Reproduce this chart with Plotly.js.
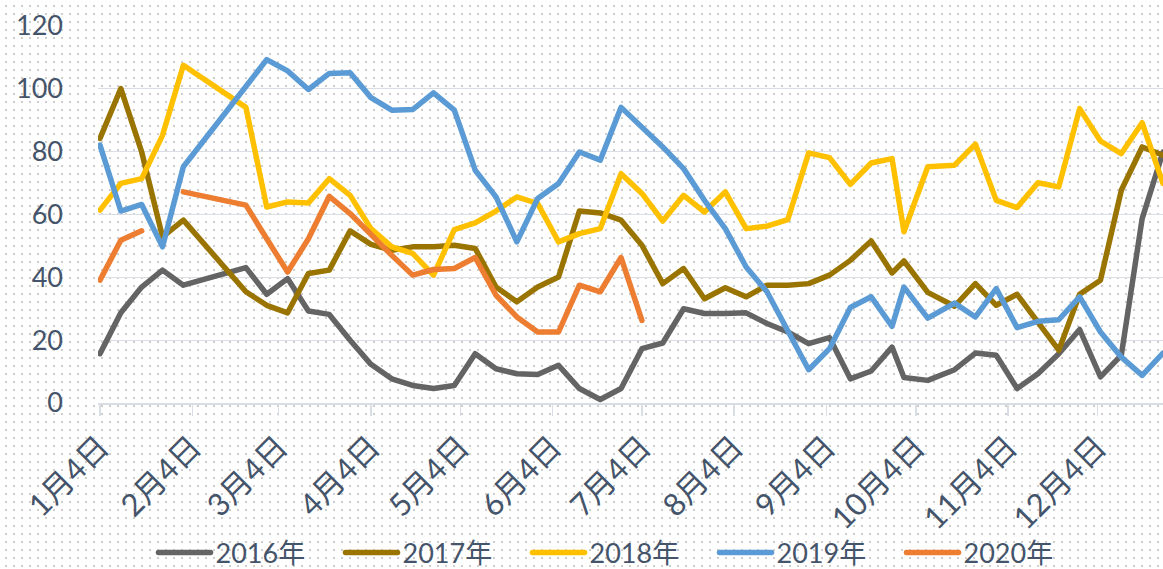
<!DOCTYPE html>
<html>
<head>
<meta charset="utf-8">
<script src="https://cdn.plot.ly/plotly-3.0.1.min.js"></script>
<style>
  html, body { margin: 0; padding: 0; }
  body {
    width: 1163px; height: 569px; overflow: hidden;
    background-color: #ffffff;
    background-image: radial-gradient(circle, #cdcdcd 0.85px, rgba(255,255,255,0) 1.15px);
    background-size: 8px 8px;
    background-position: 2px 2px;
  }
  #chart { width: 1163px; height: 569px; }
  .scatterlayer .js-line, .legendlines path { stroke-linejoin: round !important; stroke-linecap: round !important; }
</style>
</head>
<body>
<div id="chart"></div>
<script>
// Shared observation dates (month-day; plotted on a common 2016 calendar)
const dates = ["2016-01-04","2016-01-11","2016-01-18","2016-01-25","2016-02-01",
  "2016-02-22","2016-02-29","2016-03-07","2016-03-14","2016-03-21","2016-03-28",
  "2016-04-04","2016-04-11","2016-04-18","2016-04-25","2016-05-02","2016-05-09",
  "2016-05-16","2016-05-23","2016-05-30","2016-06-06","2016-06-13","2016-06-20",
  "2016-06-27","2016-07-04","2016-07-11","2016-07-18","2016-07-25","2016-08-01",
  "2016-08-08","2016-08-15","2016-08-22","2016-08-29","2016-09-05","2016-09-12",
  "2016-09-19","2016-09-26","2016-09-30","2016-10-08","2016-10-17","2016-10-24",
  "2016-10-31","2016-11-07","2016-11-14","2016-11-21","2016-11-28","2016-12-05",
  "2016-12-12","2016-12-19","2016-12-26"];

const y2016 = [15.7,28.7,36.9,42.3,37.5,43.1,34.6,39.6,29.3,28.2,20.0,12.3,7.7,5.6,4.6,5.6,15.7,
  10.9,9.3,9.1,12.0,4.6,1.1,4.6,17.3,19.1,30.0,28.5,28.5,28.7,25.3,22.6,18.9,20.8,7.7,
  10.2,17.8,8.1,7.2,10.6,15.9,15.2,4.6,9.3,15.7,23.4,8.3,15.2,58.7,79.9];

const y2017 = [84.2,100.1,79.9,52.9,58.2,35.4,31.1,28.7,41.2,42.3,54.8,50.5,48.6,49.7,49.7,50.2,
  49.2,36.9,32.2,36.9,40.1,61.1,60.5,58.2,50.2,38.0,42.8,33.2,36.7,33.8,37.5,37.5,38.0,
  40.7,45.4,51.6,41.4,45.2,35.2,30.8,38.0,31.1,34.6,25.7,16.8,34.6,39.1,67.7,81.5,78.9];

const y2018 = [61.4,69.9,71.4,85.2,107.5,94.1,62.4,64.0,63.7,71.4,66.1,55.5,49.7,47.6,40.7,55.2,
  57.3,61.1,65.6,63.5,51.3,53.9,55.5,73.0,66.7,57.9,66.1,60.8,67.2,55.5,56.3,58.4,79.6,
  78.1,69.6,76.4,77.8,54.5,75.2,75.7,82.4,64.5,62.2,70.1,68.8,93.7,83.4,79.4,89.2,69.9];

const y2019 = [82.1,61.1,63.2,49.7,75.2,100.5,109.3,105.7,99.8,104.9,105.1,97.2,93.2,93.4,98.7,
  93.2,74.1,65.6,51.3,65.1,69.9,79.9,77.3,94.1,87.9,81.5,74.6,64.5,55.5,43.3,35.4,22.6,
  10.6,17.3,30.4,33.8,24.4,36.9,27.0,31.8,27.4,36.4,24.0,26.0,26.5,33.8,22.6,14.6,8.8,15.9];

const y2020 = [39.1,51.8,54.8,null,67.2,63.0,52.3,41.7,52.3,65.8,60.3,53.5,47.0,40.7,42.5,42.8,
  46.3,34.3,27.4,22.6,22.6,37.5,35.4,46.3,26.3];

const seriesNames = ["2016年","2017年","2018年","2019年","2020年"];
const seriesValues = [y2016, y2017, y2018, y2019, y2020];
const seriesColors = ["#646464","#9a7400","#ffc000","#5b9bd5","#ed7d31"];

const tickDates = ["2016-01-04","2016-02-04","2016-03-04","2016-04-04","2016-05-04","2016-06-04",
  "2016-07-04","2016-08-04","2016-09-04","2016-10-04","2016-11-04","2016-12-04"];
const tickLabels = ["1月4日","2月4日","3月4日","4月4日","5月4日","6月4日",
  "7月4日","8月4日","9月4日","10月4日","11月4日","12月4日"];

const FONT = "Lato, 'Noto Sans CJK SC', sans-serif";
const TXT = "#44546a";
const GRID = "#d9dee5";

const traces = seriesNames.map((name, i) => ({
  type: "scatter",
  mode: "lines",
  name: name,
  x: dates.slice(0, seriesValues[i].length),
  y: seriesValues[i],
  connectgaps: false,
  line: { color: seriesColors[i], width: 5.5 },
  hoverinfo: "skip"
}));

const layout = {
  width: 1163, height: 569,
  margin: { l: 98, r: 0, t: 26, b: 166 },
  paper_bgcolor: "rgba(0,0,0,0)",
  plot_bgcolor: "rgba(0,0,0,0)",
  showlegend: true,
  font: { family: FONT, color: TXT, size: 27 },
  xaxis: {
    type: "date",
    range: ["2016-01-03 08:00", "2016-12-26"],
    tickmode: "array",
    tickvals: tickDates,
    ticktext: tickLabels,
    tickangle: -45,
    ticks: "outside",
    ticklen: 11,
    tickwidth: 1.5,
    tickcolor: GRID,
    ticklabelstandoff: 1,
    showgrid: false,
    showline: true,
    linecolor: GRID,
    linewidth: 1.5,
    zeroline: false,
    automargin: false,
    tickfont: { family: FONT, color: TXT, size: 31 }
  },
  yaxis: {
    range: [0, 120],
    tickmode: "array",
    tickvals: [0,20,40,60,80,100,120],
    ticks: "",
    ticklabelstandoff: 34,
    showgrid: true,
    gridcolor: GRID,
    gridwidth: 1.3,
    zeroline: false,
    showline: false,
    automargin: false,
    tickfont: { family: FONT, color: TXT, size: 27 }
  },
  legend: {
    orientation: "h",
    xref: "paper",
    x: 0.4911, xanchor: "center",
    yref: "container",
    y: 0.028, yanchor: "middle",
    font: { family: FONT, color: TXT, size: 27 },
    itemwidth: 52,
    entrywidth: 120,
    entrywidthmode: "pixels",
    bgcolor: "rgba(0,0,0,0)"
  }
};

Plotly.newPlot("chart", traces, layout, { staticPlot: true, displayModeBar: false });
</script>
</body>
</html>
